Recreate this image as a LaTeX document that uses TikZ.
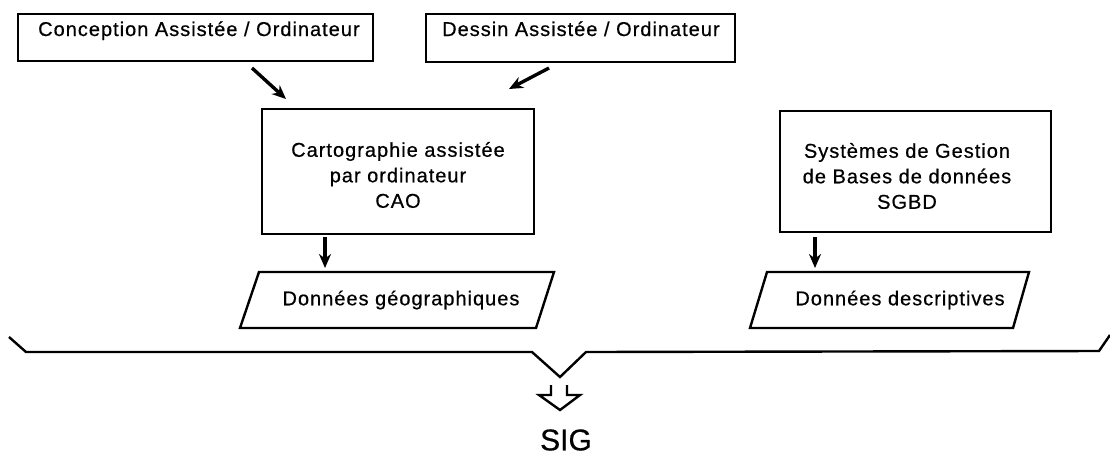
\documentclass[tikz,border=0pt]{standalone}
\usepackage{fontspec}
\setmainfont{Liberation Sans}[LetterSpace=5, FakeBold=0.6]
\newfontfamily\titlefont{Liberation Sans}[FakeBold=0.6]
\usetikzlibrary{arrows.meta}

\begin{document}
\begin{tikzpicture}[x=1pt,y=-1pt,
  frame/.style={draw, line width=2.4pt, inner sep=0pt},
  boxtext/.style={font=\fontsize{20}{25.5}\selectfont, inner sep=0pt},
  arr/.style={line width=3.4pt, -{Stealth[length=14pt,width=12pt]}},
  outline/.style={line width=2.4pt, line join=miter}
]
\useasboundingbox (0,0) rectangle (1110,456);

% top boxes
\node[frame, minimum width=355pt, minimum height=47pt, anchor=north west] (cpt) at (17,13) {};
\node[boxtext, anchor=base west] (cpttxt) at (38,36) {Conception Assistée / Ordinateur};
\node[frame, minimum width=309pt, minimum height=48pt, anchor=north west] (dsn) at (425,13) {};
\node[boxtext, anchor=base west] (dsntxt) at (442,36) {Dessin Assistée / Ordinateur};

% middle boxes
\node[frame, minimum width=272pt, minimum height=125pt, anchor=north west] (cao) at (261,108) {};
\node[boxtext, align=center] (caotxt) at (398,175) {Cartographie assistée\\par ordinateur\\CAO};
\node[frame, minimum width=271pt, minimum height=121pt, anchor=north west] (sgbd) at (779,110) {};
\node[boxtext, align=center] (sgbdtxt) at (907,176) {Systèmes de Gestion\\de Bases de données\\SGBD};

% data parallelograms
\draw[outline] (259,272) -- (554,272) -- (536,328) -- (240,328) -- cycle;
\node[boxtext] (geo) at (401,300) {Données géographiques};
\draw[outline] (767,272) -- (1029,272) -- (1013,328) -- (750,328) -- cycle;
\node[boxtext] (desc) at (900,300) {Données descriptives};

% arrow end points
\coordinate (a1s) at (252,68);  \coordinate (a1e) at (286,99);
\coordinate (a2s) at (549,68);  \coordinate (a2e) at (509,89);
\coordinate (d1s) at (325,237); \coordinate (d1e) at (325,268);
\coordinate (d2s) at (815,237); \coordinate (d2e) at (815,268);
\draw[arr] (a1s) -- (a1e);
\draw[arr] (a2s) -- (a2e);
\draw[arr] (d1s) -- (d1e);
\draw[arr] (d2s) -- (d2e);

% grouping brace
\draw[outline] (9,337) -- (26,352) -- (532,352) -- (560,377) -- (586,352) -- (1099,351) -- (1110,335);

% hollow arrow to the result
\draw[outline] (551,385) -- (551,395) -- (539,395) -- (560,410) -- (580,395) -- (567,395) -- (567,385);
\node[font=\titlefont\fontsize{30}{31}\selectfont, inner sep=0pt] (sig) at (566,440) {SIG};
\end{tikzpicture}
\end{document}
